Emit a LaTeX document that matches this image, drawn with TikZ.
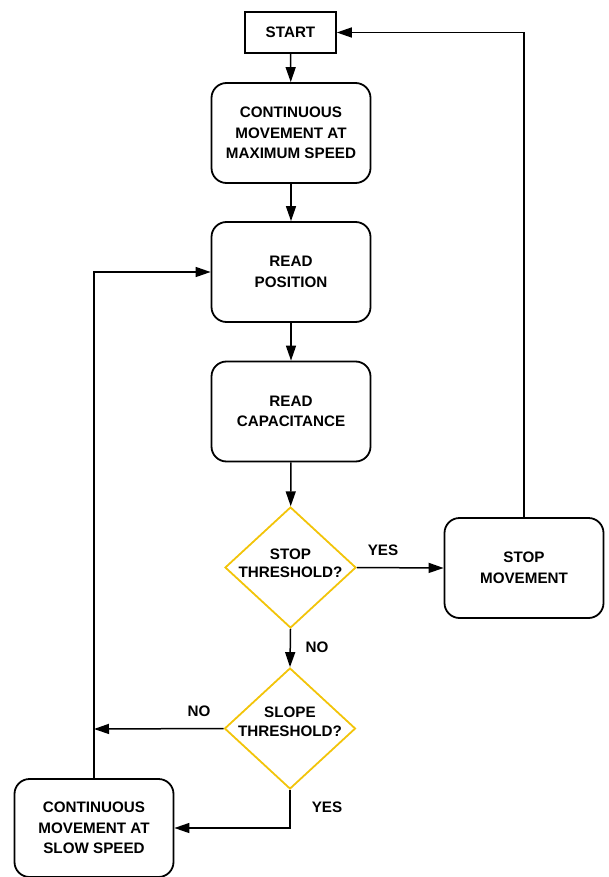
\documentclass[tikz,border=0pt]{standalone}
\usepackage{fontspec}
\setmainfont{Liberation Sans}
\usetikzlibrary{shapes.geometric,arrows.meta}
\definecolor{diay}{RGB}{242,196,10}
\begin{document}
\begin{tikzpicture}[x=1pt,y=-1pt,
  every node/.style={font=\bfseries\fontsize{15.2}{20.5}\selectfont, align=center},
  box/.style={draw, line width=1.8pt, rounded corners=15pt, minimum width=159pt, minimum height=100pt, inner sep=0pt},
  sbox/.style={draw, line width=1.6pt, minimum width=91pt, minimum height=41pt, inner sep=0pt},
  dia/.style={draw=diay, line width=1.8pt, diamond, minimum width=131pt, minimum height=121pt, inner sep=0pt},
  lbl/.style={font=\bfseries\fontsize{15.2}{18.5}\selectfont},
  arr/.style={line width=1.5pt, -{Triangle[length=15pt,width=10pt]}},
  ln/.style={line width=1.5pt}]
\useasboundingbox (0,0) rectangle (608,877);
\node[sbox] (start) at (290.5,32.5) {START};
\node[box] (max) at (291,133) {CONTINUOUS\\MOVEMENT AT\\MAXIMUM SPEED};
\node[box] (rp) at (291,272) {READ\\POSITION};
\node[box] (rc) at (291,411.5) {READ\\CAPACITANCE};
\node[dia] (d1) at (290.5,567.5) {};
\node[lbl] (d1t) at (290.5,563.5) {STOP\\THRESHOLD?};
\node[box] (sm) at (524,568) {STOP\\MOVEMENT};
\node[dia] (d2) at (290,728.5) {};
\node[lbl] (d2t) at (290,722) {SLOPE\\THRESHOLD?};
\node[box, minimum height=98pt] (slow) at (94,828) {CONTINUOUS\\MOVEMENT AT\\SLOW SPEED};
\coordinate (j) at (94,729);
\node (yes1) at (383,550) {YES};
\node (no1) at (317,647) {NO};
\node (no2) at (199,711) {NO};
\node (yes2) at (327,807) {YES};
\draw[arr] (start) -- (max);
\draw[arr] (max) -- (rp);
\draw[arr] (rp) -- (rc);
\draw[arr] (rc) -- (d1);
\draw[arr] (d1.east) -- (sm.west);
\draw[arr] (sm.north) |- (start.east);
\draw[arr] (d1.south) -- (d2.north);
\draw[arr] (d2.west) -- (j);
\draw[arr] (d2.south) |- (slow.east);
\draw[arr] (slow.north) |- (rp.west);
\end{tikzpicture}
\end{document}
